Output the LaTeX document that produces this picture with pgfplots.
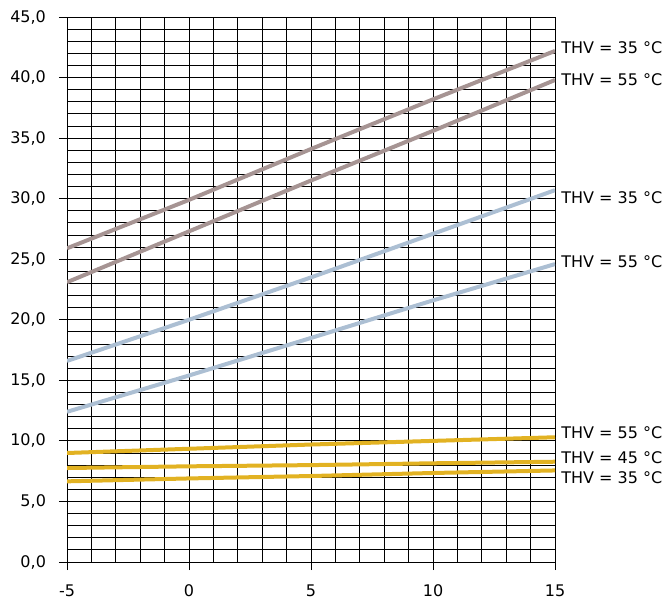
\documentclass[border=0pt]{standalone}
\usepackage{fontspec}
\setmainfont{DejaVu Sans}
\usepackage{pgfplots}
\pgfplotsset{compat=1.18}
\definecolor{cbrown}{RGB}{166,148,147}
\definecolor{cblue}{RGB}{172,191,211}
\definecolor{cyellow}{RGB}{226,178,34}
\begin{document}
\begin{tikzpicture}
\useasboundingbox (0,0) rectangle (334pt,302.5pt);
\begin{axis}[
  at={(33.5pt,21.5pt)}, anchor=south west,
  scale only axis, width=244pt, height=272.5pt,
  xmin=-5, xmax=15, ymin=0, ymax=45,
  xtick={-5,0,5,10,15}, ytick={0,5,...,45},
  minor x tick num=4, minor y tick num=4,
  xtick pos=bottom, ytick pos=left,
  grid=both,
  major grid style={black, line width=0.5pt},
  minor grid style={black, line width=0.5pt},
  axis line style={black, line width=0.5pt},
  tick align=outside, major tick length=4pt, minor tick length=0pt,
  tick style={black, line width=0.5pt},
  xticklabel style={font=\fontsize{8}{9}\selectfont, yshift=-4pt},
  yticklabel style={font=\fontsize{8}{9}\selectfont, xshift=-3pt},
  /pgf/number format/assume math mode=true,
  yticklabel={\pgfmathprintnumber[fixed, fixed zerofill, precision=1, use comma]{\tick}},
  xticklabel={\pgfmathprintnumber{\tick}},
  clip=true,
]
\addplot[cbrown, line width=2pt] coordinates {(-5,25.9) (0,29.9) (5,34.1) (10,38.2) (15,42.2)};
\addplot[cbrown, line width=2pt] coordinates {(-5,23.1) (0,27.3) (5,31.5) (10,35.6) (15,39.8)};
\addplot[cblue, line width=2pt] coordinates {(-5,16.6) (0,20.0) (5,23.5) (10,27.1) (15,30.7)};
\addplot[cblue, line width=2pt] coordinates {(-5,12.4) (0,15.4) (5,18.5) (10,21.6) (15,24.6)};
\addplot[cyellow, line width=2pt] coordinates {(-5,9.0) (0,9.35) (5,9.7) (10,10.0) (15,10.3)};
\addplot[cyellow, line width=2pt] coordinates {(-5,7.76) (0,7.9) (5,8.0) (10,8.15) (15,8.28)};
\addplot[cyellow, line width=2pt] coordinates {(-5,6.66) (0,6.9) (5,7.1) (10,7.35) (15,7.56)};
\end{axis}
\begin{scope}[every node/.style={anchor=west, inner sep=0pt, font=\fontsize{8}{9}\selectfont}]
\node at (280.5pt, {21.5pt+42.5*272.5pt/45}) {THV = 35 °C};
\node at (280.5pt, {21.5pt+39.8*272.5pt/45}) {THV = 55 °C};
\node at (280.5pt, {21.5pt+30.1*272.5pt/45}) {THV = 35 °C};
\node at (280.5pt, {21.5pt+24.8*272.5pt/45}) {THV = 55 °C};
\node at (280.5pt, {21.5pt+10.7*272.5pt/45}) {THV = 55 °C};
\node at (280.5pt, {21.5pt+8.6*272.5pt/45}) {THV = 45 °C};
\node at (280.5pt, {21.5pt+7.0*272.5pt/45}) {THV = 35 °C};
\end{scope}
\end{tikzpicture}
\end{document}
